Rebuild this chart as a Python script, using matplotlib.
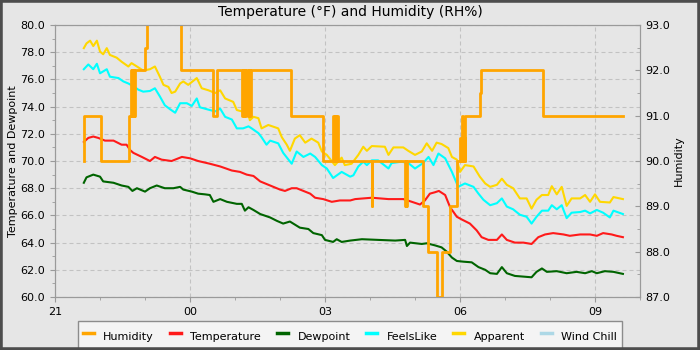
import matplotlib
matplotlib.use("Agg")
import matplotlib.pyplot as plt
from matplotlib.lines import Line2D
from matplotlib.patches import Rectangle
from matplotlib.ticker import MultipleLocator, FuncFormatter

# Hours are counted from 21:00 on the first evening
START_HOUR = 21

temp_hours = [0.64, 0.74, 0.85, 0.96, 1.11, 1.30, 1.48, 1.59, 1.67, 1.74, 1.93, 2.11, 2.22, 2.37,
              2.59, 2.82, 3.00, 3.18, 3.44, 3.67, 3.93, 4.11, 4.26, 4.41, 4.56, 4.78, 5.00, 5.11,
              5.26, 5.37, 5.52, 5.67, 5.78, 5.96, 6.15, 6.33, 6.56, 6.67, 7.04, 7.41, 7.74, 7.93,
              8.11, 8.22, 8.33, 8.44, 8.53, 8.67, 8.78, 8.93, 9.04, 9.22, 9.37, 9.48, 9.63, 9.82,
              9.93, 10.04, 10.22, 10.41, 10.59, 10.74, 10.89, 11.07, 11.30, 11.44, 11.67, 11.89,
              12.04, 12.18, 12.37, 12.48, 12.62]
temperature = [71.4, 71.7, 71.8, 71.7, 71.5, 71.5, 71.2, 71.2, 70.8, 70.6, 70.3, 70.0, 70.3, 70.1,
               70.0, 70.3, 70.2, 70.0, 69.8, 69.6, 69.3, 69.2, 69.0, 68.9, 68.5, 68.2, 67.9, 67.8,
               68.0, 68.0, 67.8, 67.6, 67.3, 67.2, 67.0, 67.1, 67.1, 67.2, 67.3, 67.2, 67.2, 67.0,
               66.8, 67.1, 67.6, 67.7, 67.8, 67.5, 66.6, 65.9, 65.7, 65.4, 64.9, 64.4, 64.2, 64.2,
               64.6, 64.2, 64.0, 64.0, 63.9, 64.4, 64.6, 64.7, 64.6, 64.5, 64.6, 64.6,
               64.5, 64.7, 64.6, 64.5, 64.4]

dew_hours = [0.64, 0.70, 0.85, 1.00, 1.07, 1.30, 1.48, 1.63, 1.72, 1.82, 2.00, 2.11, 2.26, 2.44,
             2.63, 2.78, 2.85, 3.04, 3.18, 3.33, 3.44, 3.52, 3.67, 3.82, 4.04, 4.15, 4.22, 4.30,
             4.41, 4.56, 4.78, 4.93, 5.07, 5.22, 5.44, 5.63, 5.74, 5.93, 6.00, 6.18, 6.26, 6.37,
             6.56, 6.82, 7.18, 7.56, 7.78, 7.82, 7.89, 8.15, 8.26, 8.44, 8.59, 8.70, 8.82, 8.93,
             9.07, 9.26, 9.41, 9.56, 9.67, 9.82, 9.93, 10.04, 10.22, 10.41, 10.59, 10.70, 10.82,
             10.93, 11.15, 11.37, 11.59, 11.78, 11.93, 12.04, 12.22, 12.41, 12.62]
dewpoint = [68.4, 68.8, 69.0, 68.85, 68.5, 68.4, 68.2, 68.1, 67.8, 68.0, 67.75, 68.0, 68.2, 68.0,
            68.0, 68.1, 67.9, 67.75, 67.6, 67.55, 67.5, 67.0, 67.2, 67.0, 66.85, 66.85, 66.35, 66.6,
            66.4, 66.1, 65.85, 65.6, 65.4, 65.55, 65.1, 65.0, 64.7, 64.55, 64.2, 64.05, 64.25, 64.05,
            64.15, 64.25, 64.2, 64.15, 64.2, 63.75, 64.0, 63.9, 63.95, 63.8, 63.65, 63.35, 62.9, 62.65,
            62.6, 62.55, 62.2, 62.0, 61.75, 61.7, 62.2, 61.75, 61.55, 61.5, 61.45, 61.85, 62.1,
            61.85, 61.9, 61.75, 61.85, 61.75, 61.9, 61.75, 61.9, 61.85, 61.7]

feels_hours = [0.64, 0.74, 0.85, 0.93, 1.00, 1.15, 1.22, 1.41, 1.52, 1.63, 1.74, 1.85, 1.96, 2.11,
               2.22, 2.33, 2.44, 2.56, 2.67, 2.78, 2.93, 3.04, 3.15, 3.22, 3.44, 3.56, 3.67, 3.78,
               3.93, 4.04, 4.18, 4.30, 4.37, 4.52, 4.59, 4.70, 4.78, 4.96, 5.07, 5.26, 5.37, 5.52,
               5.67, 5.78, 5.93, 6.04, 6.18, 6.37, 6.56, 6.63, 6.74, 6.85, 6.93, 7.04, 7.18, 7.41,
               7.48, 7.70, 7.85, 8.00, 8.18, 8.30, 8.41, 8.52, 8.67, 8.82, 8.96, 9.11, 9.30, 9.41,
               9.52, 9.67, 9.82, 9.93, 10.04, 10.18, 10.33, 10.48, 10.59, 10.70, 10.82, 10.96, 11.04,
               11.15, 11.26, 11.37, 11.48, 11.67, 11.78, 11.89, 12.04, 12.18, 12.33, 12.41, 12.62]
feels_like = [76.75, 77.1, 76.75, 77.15, 76.45, 76.75, 76.2, 76.1, 75.85, 75.7, 75.5, 75.25, 75.1, 75.15,
              75.35, 74.75, 74.1, 73.8, 73.55, 74.25, 74.25, 74.05, 74.6, 73.95, 73.75, 73.65, 73.85, 73.25,
              73.05, 72.4, 72.4, 72.55, 72.4, 72.05, 71.75, 71.2, 71.5, 71.3, 70.6, 69.8, 70.7, 70.3,
              70.55, 70.3, 69.7, 69.45, 68.75, 69.2, 68.85, 68.95, 69.6, 69.95, 69.7, 70.05, 70.05, 69.45,
              69.85, 69.95, 69.85, 69.45, 69.85, 70.3, 69.7, 70.55, 70.2, 69.2, 68.1, 68.35, 68.1, 67.6,
              67.15, 66.75, 66.9, 67.25, 66.65, 66.45, 66.05, 65.9, 65.4, 65.9, 66.35, 66.35, 66.75,
              66.45, 66.75, 65.8, 66.2, 66.25, 66.35, 66.15, 66.4, 66.2, 65.85, 66.35, 66.1]

apparent_hours = [0.64, 0.70, 0.78, 0.85, 0.93, 1.00, 1.07, 1.15, 1.22, 1.37, 1.48, 1.63, 1.70, 1.82,
                  1.96, 2.11, 2.22, 2.33, 2.41, 2.52, 2.59, 2.67, 2.78, 2.85, 2.96, 3.15, 3.26, 3.41,
                  3.56, 3.67, 3.78, 3.96, 4.04, 4.15, 4.26, 4.33, 4.41, 4.52, 4.59, 4.74, 4.96, 5.04,
                  5.15, 5.22, 5.33, 5.44, 5.56, 5.70, 5.85, 5.93, 6.04, 6.22, 6.37, 6.44, 6.59, 6.74,
                  6.85, 6.93, 7.04, 7.33, 7.41, 7.52, 7.74, 7.85, 8.00, 8.15, 8.26, 8.38, 8.48, 8.59,
                  8.74, 8.82, 8.93, 9.00, 9.11, 9.30, 9.44, 9.56, 9.67, 9.82, 9.93, 10.04, 10.18, 10.33,
                  10.48, 10.59, 10.70, 10.82, 10.96, 11.04, 11.15, 11.26, 11.37, 11.48, 11.67, 11.78,
                  11.89, 12.00, 12.11, 12.33, 12.41, 12.62]
apparent = [78.3, 78.65, 78.85, 78.45, 78.85, 78.05, 77.85, 78.3, 77.8, 77.6, 77.3, 76.95, 77.2, 76.95,
            76.65, 76.75, 76.95, 76.2, 75.6, 75.45, 75.0, 75.1, 75.7, 75.85, 75.6, 76.1, 75.35, 75.2,
            75.0, 75.2, 74.6, 74.35, 73.75, 73.65, 73.85, 73.0, 73.25, 73.15, 72.4, 72.65, 72.4, 71.75,
            71.2, 70.75, 71.65, 71.9, 71.35, 71.65, 71.35, 70.7, 70.45, 69.7, 70.25, 69.7, 69.8, 70.45,
            71.05, 70.75, 71.1, 71.05, 70.45, 71.0, 71.0, 70.75, 70.45, 70.7, 71.3, 70.75, 71.35, 71.25,
            70.95, 70.3, 70.1, 69.2, 69.7, 69.6, 68.85, 68.35, 68.1, 68.25, 68.7, 68.25, 68.0, 67.25,
            67.25, 66.5, 67.15, 67.5, 67.5, 68.15, 67.55, 68.1, 66.7, 67.25, 67.25, 67.5,
            67.0, 67.55, 67.0, 66.95, 67.35, 67.2]

# Humidity only changes in steps, so keep the change points
hum_hours = [0.64, 0.65, 1.02, 1.64, 1.69, 1.70, 1.71, 1.72, 1.73, 1.74, 1.75, 1.76, 1.77, 2.00,
             2.04, 2.80, 3.50, 3.59, 4.15, 4.17, 4.19, 4.21, 4.23, 4.25, 4.29, 4.31, 4.33, 4.36,
             5.24, 5.96, 6.18, 6.20, 6.22, 6.24, 6.26, 6.28, 7.04, 7.05, 7.78, 7.80, 7.81, 7.83,
             8.18, 8.28, 8.48, 8.59, 8.78, 8.93, 9.00, 9.02, 9.04, 9.06, 9.08, 9.10, 9.12,
             9.44, 9.47, 10.84, 12.62]
humidity = [90, 91, 90, 91, 92, 91, 92, 91, 92, 91, 92, 91, 92, 92.5,
            93.5, 92, 91, 92, 91, 92, 91, 92, 91, 92, 91, 92, 91, 92,
            91, 90, 91, 90, 91, 90, 91, 90, 89, 90, 89, 90, 89, 90,
            89, 88, 87, 88, 89, 90, 90.5, 90, 91, 90, 90.5, 90, 91,
            91.5, 92, 91, 91]

BG = "#e6e6e6"
GRID = "#c2c2c2"
SPINE = "#9a9a9a"


def hour_label(h, pos):
    return f"{int(round(START_HOUR + h)) % 24:02d}"


fig = plt.figure(figsize=(7, 3.5), dpi=100)
fig.patch.set_facecolor(BG)
ax = fig.add_axes([0.0786, 0.1514, 0.8357, 0.7771])
ax.set_facecolor(BG)
ax2 = ax.twinx()

ax.plot(temp_hours, temperature, color="#ff1a1a", lw=1.5, label="Temperature")
ax.plot(dew_hours, dewpoint, color="#006400", lw=1.5, label="Dewpoint")
ax.plot(feels_hours, feels_like, color="#00ffff", lw=1.5, label="FeelsLike")
ax.plot(apparent_hours, apparent, color="#ffd700", lw=1.5, label="Apparent")
ax2.step(hum_hours, humidity, where="post", color="#ffa500", lw=2.0, label="Humidity")

ax.set_xlim(0, 13)
ax.set_ylim(60, 80)
ax2.set_ylim(87, 93)

ax.xaxis.set_major_locator(MultipleLocator(3))
ax.xaxis.set_minor_locator(MultipleLocator(1))
ax.xaxis.set_major_formatter(FuncFormatter(hour_label))
ax.yaxis.set_major_locator(MultipleLocator(2))
ax.yaxis.set_minor_locator(MultipleLocator(1))
ax.yaxis.set_major_formatter(FuncFormatter(lambda v, p: f"{v:.1f}"))
ax2.yaxis.set_major_locator(MultipleLocator(1))
ax2.yaxis.set_minor_locator(MultipleLocator(0.5))
ax2.yaxis.set_major_formatter(FuncFormatter(lambda v, p: f"{v:.1f}"))

ax.grid(True, which="major", color=GRID, linestyle=(0, (3.6, 2.7)), linewidth=0.8)
ax.set_axisbelow(True)

ax.tick_params(which="major", direction="out", length=3.6, color=SPINE, labelsize=8)
ax.tick_params(which="minor", direction="out", length=2, color=SPINE)
ax2.tick_params(which="major", direction="in", length=3.6, color=SPINE, labelsize=8)
ax2.tick_params(which="minor", direction="in", length=2, color=SPINE)
for a in (ax, ax2):
    for s in a.spines.values():
        s.set_color(SPINE)

ax.set_ylabel("Temperature and Dewpoint", fontsize=8, labelpad=1.5)
ax2.set_ylabel("Humidity", fontsize=8, labelpad=3)
fig.text(0.5, 0.966, "Temperature (\u00b0F) and Humidity (RH%)", fontsize=10,
         ha="center", va="center")

# Wind chill had no readings, it only shows up in the legend
wind_chill = Line2D([], [], color="#add8e6", label="Wind Chill")
series = ax2.get_lines() + ax.get_lines() + [wind_chill]
leg_handles = [Line2D([], [], color=s.get_color(), lw=2.5) for s in series]
leg = ax2.legend(leg_handles, [s.get_label() for s in series], loc="upper center",
                 bbox_to_anchor=(0.5, 1 - 321 / 350), bbox_transform=fig.transFigure,
                 ncol=6, fontsize=8, fancybox=False, framealpha=1, facecolor="#f4f4f4",
                 edgecolor="#8c8c8c", handlelength=1.0, handletextpad=0.85,
                 columnspacing=1.42, handleheight=2.6, borderaxespad=0)
leg.get_frame().set_linewidth(1.0)

# dark frame around the whole image
fig.add_artist(Rectangle((0, 0), 1, 1, transform=fig.transFigure, fill=False,
                         edgecolor="#4d4d4d", lw=4, zorder=10))

plt.savefig("out.png", dpi=100, facecolor=BG)
plt.close()
